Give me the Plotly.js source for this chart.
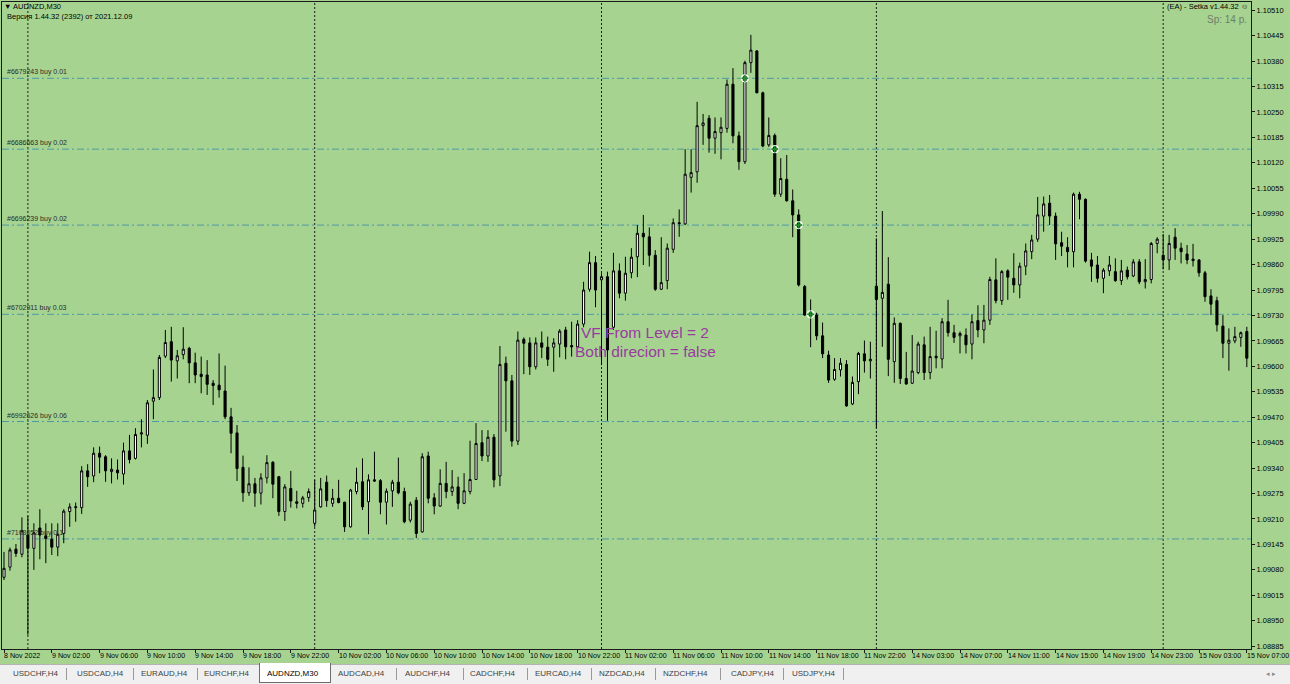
<!DOCTYPE html>
<html><head><meta charset="utf-8">
<script src="https://cdn.plot.ly/plotly-3.0.1.min.js"></script>
<style>
html,body{margin:0;padding:0;width:1290px;height:684px;overflow:hidden;background:#a6d490;font-family:"Liberation Sans",Arial,sans-serif;}
#chart{position:absolute;left:0;top:0;width:1290px;height:664px;}
#tabs{position:absolute;left:0;top:664px;width:1290px;height:20px;background:#f0f0f0;border-top:1px solid #b4b4b4;box-sizing:border-box;}
.tab{position:absolute;top:4px;font-size:8px;color:#404040;white-space:nowrap;line-height:10px;}
.sep{position:absolute;top:3px;width:1px;height:12px;background:#9a9a9a;}
.active{position:absolute;top:-2px;height:20px;background:#fff;border:1px solid #6e6e6e;border-top:none;box-sizing:border-box;}
</style></head>
<body>
<div id="chart"></div>
<div id="tabs"></div>
<script>
// ---- DATA ----
const symbolTitle = "AUDNZD,M30";
const versionText = "Версия 1.44.32 (2392) от 2021.12.09";
const eaText = "(EA) - Setka v1.44.32 \u263A";
const spreadText = "Sp: 14 p.";
const vfLines = ["VF From Level = 2", "Both direcion = false"];

const open = [1.09061,1.09087,1.09133,1.09120,1.09169,1.09135,1.09187,1.09167,1.09158,1.09138,
1.09173,1.09229,1.09239,1.09239,1.09333,1.09320,1.09378,1.09369,1.09331,1.09335,
1.09325,1.09384,1.09365,1.09427,1.09424,1.09511,1.09520,1.09626,1.09663,1.09614,
1.09630,1.09646,1.09609,1.09580,1.09578,1.09557,1.09552,1.09537,1.09471,1.09430,
1.09342,1.09277,1.09300,1.09276,1.09315,1.09355,1.09318,1.09229,1.09288,1.09254,
1.09250,1.09265,1.09199,1.09241,1.09304,1.09250,1.09263,1.09253,1.09190,1.09280,
1.09305,1.09254,1.09310,1.09308,1.09253,1.09282,1.09304,1.09280,1.09207,1.09258,
1.09177,1.09371,1.09264,1.09243,1.09301,1.09280,1.09292,1.09250,1.09280,1.09311,
1.09405,1.09371,1.09419,1.09320,1.09608,1.09563,1.09409,1.09669,1.09660,1.09599,
1.09660,1.09649,1.09649,1.09657,1.09693,1.09653,1.09650,1.09708,1.09797,1.09865,
1.09821,1.09829,1.09700,1.09844,1.09787,1.09839,1.09880,1.09940,1.09931,1.09884,
1.09797,1.09819,1.09899,1.09967,1.09964,1.10083,1.10097,1.10215,1.10234,1.10183,
1.10197,1.10208,1.10321,1.10189,1.10123,1.10376,1.10406,1.10299,1.10166,1.10190,
1.10040,1.10078,1.10023,1.09987,1.09804,1.09729,1.09731,1.09678,1.09629,1.09567,
1.09591,1.09605,1.09504,1.09561,1.09632,1.09614,1.09805,1.09774,1.09810,1.09612,
1.09710,1.09569,1.09557,1.09584,1.09655,1.09584,1.09626,1.09619,1.09714,1.09686,
1.09678,1.09680,1.09657,1.09717,1.09693,1.09718,1.09821,1.09768,1.09844,1.09825,
1.09808,1.09856,1.09893,1.09925,1.09984,1.10017,1.09984,1.09916,1.09904,1.09893,
1.10040,1.10027,1.09872,1.09859,1.09825,1.09844,1.09842,1.09819,1.09846,1.09831,
1.09867,1.09816,1.09822,1.09914,1.09884,1.09872,1.09930,1.09902,1.09887,1.09874,
1.09872,1.09839,1.09780,1.09768,1.09703,1.09659,1.09665,1.09674,1.09689];

const high = [1.09126,1.09137,1.09146,1.09214,1.09218,1.09199,1.09235,1.09199,1.09199,1.09199,
1.09235,1.09250,1.09252,1.09345,1.09350,1.09393,1.09395,1.09373,1.09365,1.09362,
1.09405,1.09425,1.09442,1.09465,1.09514,1.09592,1.09629,1.09693,1.09701,1.09642,
1.09700,1.09650,1.09635,1.09625,1.09616,1.09565,1.09633,1.09602,1.09494,1.09450,
1.09372,1.09342,1.09315,1.09327,1.09373,1.09358,1.09320,1.09299,1.09333,1.09282,
1.09269,1.09288,1.09310,1.09315,1.09321,1.09287,1.09310,1.09254,1.09287,1.09341,
1.09365,1.09324,1.09382,1.09312,1.09288,1.09310,1.09367,1.09290,1.09254,1.09266,
1.09378,1.09382,1.09276,1.09337,1.09356,1.09335,1.09318,1.09327,1.09410,1.09455,
1.09437,1.09437,1.09427,1.09652,1.09625,1.09578,1.09689,1.09674,1.09674,1.09674,
1.09689,1.09676,1.09672,1.09695,1.09701,1.09714,1.09718,1.09816,1.09893,1.09882,
1.09838,1.09842,1.09890,1.09863,1.09880,1.09902,1.09961,1.09987,1.09955,1.09897,
1.09930,1.09914,1.09978,1.10001,1.10155,1.10155,1.10276,1.10245,1.10242,1.10236,
1.10236,1.10333,1.10362,1.10200,1.10381,1.10447,1.10408,1.10302,1.10236,1.10195,
1.10132,1.10140,1.10052,1.10001,1.09808,1.09771,1.09737,1.09712,1.09640,1.09621,
1.09621,1.09616,1.09574,1.09637,1.09666,1.09663,1.09927,1.09997,1.09879,1.09725,
1.09712,1.09637,1.09680,1.09663,1.09676,1.09701,1.09691,1.09723,1.09770,1.09706,
1.09689,1.09697,1.09733,1.09756,1.09757,1.09829,1.09876,1.09846,1.09848,1.09889,
1.09865,1.09914,1.09936,1.10033,1.10034,1.10038,1.09993,1.09944,1.09930,1.10044,
1.10046,1.10029,1.09890,1.09882,1.09851,1.09882,1.09876,1.09872,1.09855,1.09874,
1.09874,1.09874,1.09918,1.09930,1.09938,1.09936,1.09953,1.09916,1.09910,1.09913,
1.09874,1.09844,1.09797,1.09778,1.09731,1.09697,1.09701,1.09689,1.09701];

const low = [1.09054,1.09078,1.09113,1.09112,1.08914,1.09080,1.09107,1.09097,1.09118,1.09115,
1.09148,1.09190,1.09203,1.09223,1.09292,1.09304,1.09327,1.09305,1.09301,1.09311,
1.09298,1.09352,1.09362,1.09393,1.09402,1.09465,1.09514,1.09621,1.09561,1.09569,
1.09618,1.09557,1.09557,1.09531,1.09527,1.09501,1.09520,1.09465,1.09378,1.09307,
1.09254,1.09269,1.09241,1.09247,1.09301,1.09263,1.09218,1.09205,1.09239,1.09237,
1.09239,1.09254,1.09190,1.09239,1.09241,1.09241,1.09250,1.09177,1.09188,1.09273,
1.09233,1.09171,1.09305,1.09222,1.09196,1.09241,1.09273,1.09199,1.09201,1.09161,
1.09175,1.09250,1.09222,1.09241,1.09263,1.09269,1.09235,1.09248,1.09273,1.09310,
1.09358,1.09356,1.09291,1.09294,1.09433,1.09395,1.09399,1.09580,1.09578,1.09592,
1.09621,1.09601,1.09586,1.09623,1.09618,1.09625,1.09646,1.09700,1.09791,1.09751,
1.09603,1.09461,1.09693,1.09774,1.09768,1.09825,1.09828,1.09859,1.09855,1.09793,
1.09795,1.09797,1.09890,1.09931,1.09961,1.10044,1.10069,1.10166,1.10146,1.10143,
1.10129,1.10197,1.10170,1.10102,1.10117,1.10350,1.10298,1.10160,1.10161,1.10033,
1.10033,1.10021,1.09930,1.09804,1.09729,1.09649,1.09667,1.09621,1.09558,1.09563,
1.09574,1.09497,1.09501,1.09529,1.09584,1.09569,1.09442,1.09650,1.09575,1.09558,
1.09555,1.09553,1.09555,1.09580,1.09565,1.09567,1.09595,1.09595,1.09676,1.09660,
1.09633,1.09633,1.09618,1.09674,1.09659,1.09706,1.09761,1.09757,1.09770,1.09788,
1.09774,1.09833,1.09874,1.09918,1.09944,1.09961,1.09872,1.09882,1.09853,1.09853,
1.09976,1.09865,1.09816,1.09814,1.09787,1.09831,1.09816,1.09808,1.09822,1.09828,
1.09810,1.09799,1.09812,1.09889,1.09848,1.09846,1.09872,1.09863,1.09861,1.09855,
1.09829,1.09765,1.09731,1.09689,1.09621,1.09589,1.09659,1.09650,1.09598];

const close = [1.09084,1.09131,1.09122,1.09180,1.09135,1.09175,1.09169,1.09160,1.09138,1.09171,
1.09230,1.09241,1.09241,1.09333,1.09318,1.09378,1.09368,1.09333,1.09337,1.09328,
1.09384,1.09362,1.09426,1.09430,1.09507,1.09520,1.09623,1.09661,1.09616,1.09627,
1.09644,1.09609,1.09578,1.09574,1.09554,1.09551,1.09540,1.09471,1.09429,1.09339,
1.09277,1.09300,1.09276,1.09315,1.09354,1.09299,1.09229,1.09292,1.09256,1.09250,
1.09264,1.09280,1.09233,1.09287,1.09257,1.09263,1.09252,1.09190,1.09284,1.09304,
1.09241,1.09310,1.09307,1.09253,1.09281,1.09304,1.09277,1.09203,1.09248,1.09173,
1.09369,1.09263,1.09243,1.09301,1.09280,1.09292,1.09250,1.09282,1.09311,1.09403,
1.09371,1.09419,1.09310,1.09605,1.09563,1.09409,1.09667,1.09659,1.09599,1.09660,
1.09649,1.09618,1.09660,1.09690,1.09650,1.09650,1.09708,1.09795,1.09865,1.09795,
1.09829,1.09642,1.09844,1.09787,1.09838,1.09879,1.09940,1.09931,1.09884,1.09797,
1.09814,1.09902,1.09967,1.09965,1.10091,1.10095,1.10215,1.10222,1.10183,1.10200,
1.10211,1.10321,1.10189,1.10123,1.10376,1.10408,1.10299,1.10163,1.10190,1.10040,
1.10080,1.10023,1.09987,1.09808,1.09731,1.09737,1.09678,1.09632,1.09565,1.09592,
1.09608,1.09499,1.09559,1.09633,1.09614,1.09618,1.09771,1.09789,1.09618,1.09710,
1.09569,1.09555,1.09588,1.09657,1.09584,1.09625,1.09622,1.09714,1.09686,1.09674,
1.09684,1.09655,1.09714,1.09693,1.09718,1.09822,1.09768,1.09842,1.09828,1.09808,
1.09856,1.09895,1.09923,1.09987,1.10015,1.09984,1.09913,1.09907,1.09893,1.10040,
1.10027,1.09869,1.09856,1.09825,1.09846,1.09859,1.09819,1.09844,1.09829,1.09867,
1.09816,1.09822,1.09914,1.09925,1.09872,1.09914,1.09902,1.09893,1.09872,1.09870,
1.09839,1.09778,1.09759,1.09706,1.09659,1.09667,1.09676,1.09686,1.09621];

// x tick labels (one every 8 bars of M30)
const xTickBars = [0,8,16,24,32,40,48,56,64,72,80,88,96,104,112,120,128,136,144,152,160,168,176,184,192,200,208];
const xTickLabels = ["8 Nov 2022","9 Nov 02:00","9 Nov 06:00","9 Nov 10:00","9 Nov 14:00","9 Nov 18:00","9 Nov 22:00",
"10 Nov 02:00","10 Nov 06:00","10 Nov 10:00","10 Nov 14:00","10 Nov 18:00","10 Nov 22:00",
"11 Nov 02:00","11 Nov 06:00","11 Nov 10:00","11 Nov 14:00","11 Nov 18:00","11 Nov 22:00",
"14 Nov 03:00","14 Nov 07:00","14 Nov 11:00","14 Nov 15:00","14 Nov 19:00","14 Nov 23:00",
"15 Nov 03:00","15 Nov 07:00"];

const yTickLabels = ["1.10510","1.10445","1.10380","1.10315","1.10250","1.10185","1.10120","1.10055","1.09990",
"1.09925","1.09860","1.09795","1.09730","1.09665","1.09600","1.09535","1.09470","1.09405","1.09340",
"1.09275","1.09210","1.09145","1.09080","1.09015","1.08950","1.08885"];

// day separators (bar index of first bar of each day)
const daySeparatorBars = [4, 52, 100, 146, 194];

// open orders (horizontal levels)
const orderPrices = [1.10336, 1.10155, 1.09961, 1.09733, 1.09459, 1.09159];
const orderLabels = ["#6679243 buy 0.01","#6686663 buy 0.02","#6696239 buy 0.02","#6702911 buy 0.03","#6992626 buy 0.06","#7108052 buy 0.1"];

// trade markers
const markerBars = [124, 129, 133, 135];
const markerPrices = [1.10336, 1.10155, 1.09961, 1.09733];

// terminal tabs
const tabNames = ["USDCHF,H4","USDCAD,H4","EURAUD,H4","EURCHF,H4","AUDNZD,M30","AUDCAD,H4","AUDCHF,H4","CADCHF,H4","EURCAD,H4","NZDCAD,H4","NZDCHF,H4","CADJPY,H4","USDJPY,H4"];
const activeTab = "AUDNZD,M30";

// ---- LAYOUT (pixels) ----
const TAB_X = [13,77,141,204,267,338,405,470,535,599,663,731,792];
const TAB_SEP_X = [66,133,197,396,463,527,591,655,720,783,843];
const W = 1290, H = 664, ML = 2, MR = 39, MT = 2, MB = 15;
const PW = W - ML - MR, PH = H - MT - MB;
const px = x => (x - ML) / PW;
const py = y => (MT + PH - y) / PH;

const FONT = '"Liberation Sans", Arial, sans-serif';
const BG = '#a6d490';
const bars = open.map((_, i) => i);

const traces = [
  {
    type: 'candlestick', x: bars, open: open, high: high, low: low, close: close,
    increasing: {line: {color: '#000000', width: 1}, fillcolor: '#ffffff'},
    decreasing: {line: {color: '#000000', width: 1}, fillcolor: '#000000'},
    whiskerwidth: 0, hoverinfo: 'skip', showlegend: false
  },
  {
    type: 'scatter', mode: 'markers', x: markerBars, y: markerPrices, hoverinfo: 'skip', showlegend: false,
    marker: {symbol: 'circle-open', size: 7, color: '#ffffff', line: {width: 1.2, color: '#ffffff'}}
  },
  {
    type: 'scatter', mode: 'markers', x: markerBars, y: markerPrices, hoverinfo: 'skip', showlegend: false,
    marker: {symbol: 'cross-thin-open', size: 5, color: '#1f8a2e', line: {width: 1.6, color: '#1f8a2e'}}
  }
];

const shapes = [];
daySeparatorBars.forEach(b => shapes.push({
  type: 'line', xref: 'x', yref: 'paper', x0: b, x1: b, y0: 0, y1: 1,
  line: {color: '#1e1e1e', width: 1, dash: '2px,2px'}, layer: 'below'
}));
orderPrices.forEach(p => shapes.push({
  type: 'line', xref: 'paper', yref: 'y', x0: 0, x1: 1, y0: p, y1: p,
  line: {color: '#4f97a3', width: 1, dash: '7px,3px,2px,3px'}, layer: 'below'
}));

const annotations = [];
orderPrices.forEach((p, i) => annotations.push({
  xref: 'paper', yref: 'y', x: px(6), y: p, xanchor: 'left', yanchor: 'bottom',
  text: orderLabels[i], showarrow: false, borderpad: 0, yshift: 1,
  font: {family: FONT, size: 7, color: '#2a2a2a'}
}));
xTickBars.forEach((b, i) => annotations.push({
  xref: 'x', yref: 'paper', x: b, y: 0, xanchor: 'left', yanchor: 'top', yshift: -2, xshift: -1,
  text: xTickLabels[i], showarrow: false, borderpad: 0,
  font: {family: FONT, size: 7.1, color: '#000000'}
}));
annotations.push({xref: 'paper', yref: 'paper', x: px(3), y: py(7), xanchor: 'left', yanchor: 'middle',
  text: '\u25BC ' + symbolTitle, showarrow: false, borderpad: 0, font: {family: FONT, size: 7.5, color: '#000'}});
annotations.push({xref: 'paper', yref: 'paper', x: px(6), y: py(17), xanchor: 'left', yanchor: 'middle',
  text: versionText, showarrow: false, borderpad: 0, font: {family: FONT, size: 7.5, color: '#000'}});
annotations.push({xref: 'paper', yref: 'paper', x: px(1249), y: py(7), xanchor: 'right', yanchor: 'middle',
  text: eaText, showarrow: false, borderpad: 0, font: {family: FONT, size: 7.5, color: '#000'}});
annotations.push({xref: 'paper', yref: 'paper', x: px(1248), y: py(19), xanchor: 'right', yanchor: 'middle',
  text: spreadText, showarrow: false, borderpad: 0, font: {family: FONT, size: 10, color: '#6d7d6a'}});
annotations.push({xref: 'paper', yref: 'paper', x: px(645), y: py(332), xanchor: 'center', yanchor: 'middle',
  text: vfLines[0], showarrow: false, borderpad: 0, font: {family: FONT, size: 15.5, color: '#9a3aa0'}});
annotations.push({xref: 'paper', yref: 'paper', x: px(645), y: py(351.5), xanchor: 'center', yanchor: 'middle',
  text: vfLines[1], showarrow: false, borderpad: 0, font: {family: FONT, size: 15.5, color: '#9a3aa0'}});

const layout = {
  width: W, height: H,
  margin: {l: ML, r: MR, t: MT, b: MB, pad: 0},
  paper_bgcolor: BG, plot_bgcolor: BG,
  showlegend: false, boxgap: 0.5, dragmode: false,
  xaxis: {
    type: 'linear', range: [-0.335, 208.7], showgrid: false, zeroline: false,
    showline: true, mirror: true, linecolor: '#1a1a1a', linewidth: 1,
    tickmode: 'array', tickvals: xTickBars, ticks: 'outside', ticklen: 3, tickcolor: '#1a1a1a',
    showticklabels: false, rangeslider: {visible: false}, fixedrange: true
  },
  yaxis: {
    side: 'right', range: [1.088778, 1.10531], showgrid: false, zeroline: false,
    showline: true, mirror: true, linecolor: '#1a1a1a', linewidth: 1,
    tickmode: 'array', tickvals: yTickLabels.map(Number), ticktext: yTickLabels,
    ticks: 'outside', ticklen: 3, tickcolor: '#1a1a1a',
    tickfont: {family: FONT, size: 7.5, color: '#000'}, fixedrange: true
  },
  shapes: shapes, annotations: annotations
};

Plotly.newPlot('chart', traces, layout, {staticPlot: true, displayModeBar: false});

// tabs
const tabs = document.getElementById('tabs');
tabNames.forEach((n, i) => {
  if (n === activeTab) {
    const a = document.createElement('div');
    a.className = 'active'; a.style.left = (TAB_X[i] - 8) + 'px'; a.style.width = '72px';
    tabs.appendChild(a);
  }
  const t = document.createElement('div');
  t.className = 'tab'; t.textContent = n; t.style.left = TAB_X[i] + 'px';
  if (n === activeTab) { t.style.color = '#000'; }
  tabs.appendChild(t);
});
TAB_SEP_X.forEach(x => {
  const s = document.createElement('div'); s.className = 'sep'; s.style.left = x + 'px'; tabs.appendChild(s);
});
const arr = document.createElement('div');
arr.className = 'tab'; arr.style.left = '1266px'; arr.style.color = '#8a8a8a'; arr.style.fontSize = '7px';
arr.textContent = '\u25C2   \u25B8';
tabs.appendChild(arr);
</script>
</body></html>
